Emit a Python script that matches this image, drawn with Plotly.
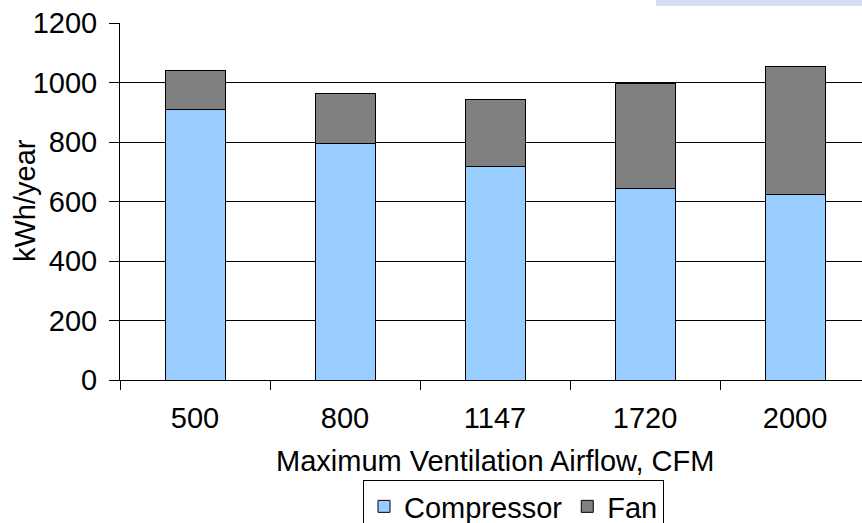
import plotly.graph_objects as go

categories = ["500", "800", "1147", "1720", "2000"]
compressor = [908, 796, 719, 644, 622]
fan = [132, 168, 225, 354, 431]
y_ticks = [0, 200, 400, 600, 800, 1000, 1200]

W, H = 862, 523
ML, MR, MT, MB = 120, 0, 23, 143
PW, PH = W - ML - MR, H - MT - MB

def px_x(x):
    return (x - ML) / PW

def px_y(y):
    return (H - MB - y) / PH

FONT = "Arial, Liberation Sans, sans-serif"
FS = 29

fig = go.Figure()
fig.add_trace(go.Bar(x=categories, y=compressor, name="Compressor",
                     marker=dict(color="#99CCFF", line=dict(color="black", width=1))))
fig.add_trace(go.Bar(x=categories, y=fan, name="Fan",
                     marker=dict(color="#808080", line=dict(color="black", width=1))))

fig.update_layout(
    width=W, height=H,
    margin=dict(l=ML, r=MR, t=MT, b=MB, pad=0, autoexpand=False),
    barmode="stack", bargap=0.6,
    plot_bgcolor="white", paper_bgcolor="white",
    font=dict(family=FONT, size=FS, color="black"),
    showlegend=True,
    legend=dict(orientation="h", xref="container", yref="container",
                x=363 / W, y=1 - 480 / H, xanchor="left", yanchor="top",
                bordercolor="black", borderwidth=1, bgcolor="white",
                font=dict(size=FS), itemwidth=30, traceorder="normal"),
    xaxis=dict(type="category", range=[-0.5, -0.5 + PW / 150.0],
               showline=True, linecolor="black", linewidth=1,
               ticks="outside", tickson="boundaries", ticklen=9, tickcolor="black",
               showgrid=False, tickfont=dict(size=FS), automargin=False,
               ticklabelstandoff=12),
    yaxis=dict(range=[0, 1200], tickvals=y_ticks, showline=True, linecolor="black", linewidth=1,
               ticks="outside", ticklen=10, tickcolor="black",
               showgrid=True, gridcolor="black", gridwidth=1, zeroline=False,
               tickfont=dict(size=FS), automargin=False, ticklabelstandoff=6),
    shapes=[dict(type="rect", xref="paper", yref="paper",
                 x0=px_x(656), x1=px_x(862), y0=px_y(6), y1=px_y(0),
                 fillcolor="#D4DFEF", line=dict(width=0), layer="above")],
    annotations=[
        dict(text="kWh/year", xref="paper", yref="paper", x=px_x(25), y=px_y(200),
             xanchor="center", yanchor="middle", textangle=-90, showarrow=False,
             font=dict(size=FS)),
        dict(text="Maximum Ventilation Airflow, CFM", xref="paper", yref="paper",
             x=px_x(495), y=px_y(461), xanchor="center", yanchor="middle", showarrow=False,
             font=dict(size=FS)),
    ],
)

fig.write_html("out.html")
